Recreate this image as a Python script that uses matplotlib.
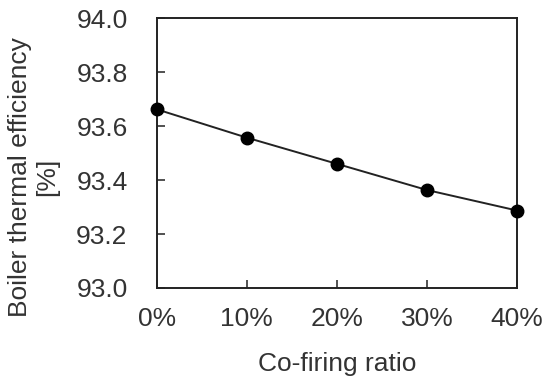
import matplotlib.pyplot as plt
from matplotlib.ticker import FuncFormatter

# Данные
ratio = [0, 10, 20, 30, 40]
efficiency = [93.662, 93.557, 93.460, 93.363, 93.287]

plt.rcParams['font.family'] = ['Liberation Sans', 'DejaVu Sans']

fig, ax = plt.subplots(figsize=(5.5, 3.85), dpi=100)
fig.subplots_adjust(left=0.285, right=0.94, top=0.953, bottom=0.252)

ax.plot(ratio, efficiency, '-', color='#222222', lw=1.4, marker='o',
        markersize=9, markerfacecolor='black', markeredgecolor='black',
        clip_on=False, zorder=3)

ax.set_xlim(0, 40)
ax.set_ylim(93.0, 94.0)
ax.set_xticks(ratio)
ax.xaxis.set_major_formatter(FuncFormatter(lambda v, p: f'{v:.0f}%'))
ax.set_yticks([93.0, 93.2, 93.4, 93.6, 93.8, 94.0])
ax.yaxis.set_major_formatter(FuncFormatter(lambda v, p: f'{v:.1f}'))
ax.tick_params(direction='in', length=6, width=1.2, labelsize=19,
               colors='#333333', labelcolor='#333333')
ax.tick_params(axis='y', pad=21)
ax.tick_params(axis='x', pad=14)
for s in ax.spines.values():
    s.set_linewidth(1.4)
    s.set_color('#222222')

ax.set_xlabel('Co-firing ratio', fontsize=19, color='#333333', labelpad=15)
ax.set_ylabel('Boiler thermal efficiency\n[%]', fontsize=19, color='#333333',
              labelpad=12, linespacing=1.2)
# подпись оси Y в оригинале сдвинута вниз
ax.yaxis.label.set_y(0.41)

fig.savefig('out.png', dpi=100)
